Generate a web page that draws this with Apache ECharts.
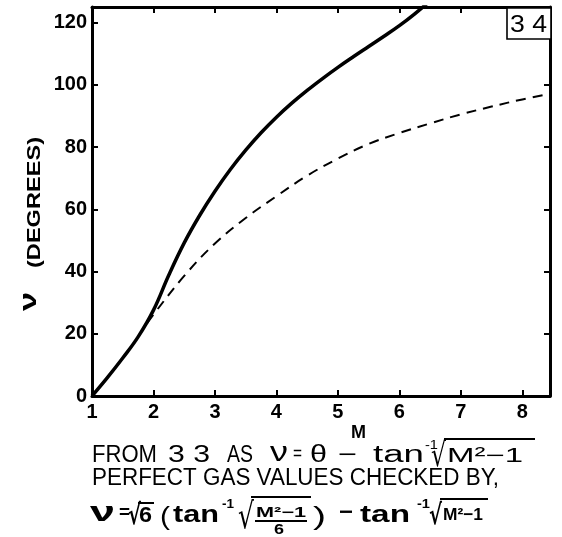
<!DOCTYPE html>
<html>
<head>
<meta charset="utf-8">
<script src="https://cdn.jsdelivr.net/npm/echarts@6/dist/echarts.min.js"></script>
<style>html,body{margin:0;padding:0;background:#fff}#c{width:562px;height:537px}</style>
</head>
<body>
<div id="c"></div>
<script>
// Solid curve (from chart 33)
const machSolid = [1, 1.25, 1.5, 1.75, 2, 2.25, 2.5, 2.75, 3, 3.25, 3.5, 3.75, 4, 4.25, 4.5, 4.75, 5, 5.25, 5.5, 5.75, 6, 6.25, 6.5];
const nuSolid   = [0, 5.9, 12.2, 19.0, 27.6, 38.9, 49.2, 58.0, 65.8, 72.8, 79.0, 84.6, 89.6, 94.1, 98.2, 102.0, 105.6, 109.0, 112.3, 115.6, 119.0, 122.8, 127.0];
// Dashed curve (perfect gas values)
const machDashed = [1.9, 2, 2.5, 3, 3.5, 4, 4.5, 5, 5.5, 6, 6.5, 7, 7.5, 8, 8.45];
const nuDashed   = [23.5, 26.2, 38.6, 49.0, 57.2, 64.2, 70.8, 76.3, 81.0, 84.5, 87.6, 90.5, 93.0, 95.3, 97.1];
// Axis ticks
const xTicks = [1, 2, 3, 4, 5, 6, 7, 8];
const yTicks = [0, 20, 40, 60, 80, 100, 120];

const FAM = 'Liberation Sans';
const mctx = document.createElement('canvas').getContext('2d');
function tw(str, size, weight, fam) { mctx.font = weight + ' ' + size + 'px "' + fam + '"'; return mctx.measureText(str).width; }
// text piece fitted between x1..x2, baseline at yb
function T(str, x1, x2, yb, size, weight, opt) {
  opt = opt || {};
  const fam = opt.fam || FAM;
  const sy = opt.sy || 1;
  const w = tw(str, size, weight, fam);
  const el = {
    type: 'text', x: x1, y: yb - 0.33 * size * sy, scaleX: (x2 - x1) / w, scaleY: sy, z: 100,
    style: { text: str, fontSize: size, fontWeight: weight, fontFamily: fam, fill: '#000',
      align: 'left', verticalAlign: 'middle', textAlign: 'left', textVerticalAlign: 'middle' }
  };
  if (opt.rot) { el.rotation = opt.rot; el.x = opt.xc; el.y = x1; el.scaleX = (x1 - x2) / w; }
  return el;
}
function L(x1, y1, x2, y2, w) {
  return { type: 'line', z: 100, shape: { x1, y1, x2, y2 }, style: { stroke: '#000', lineWidth: w || 1.8 } };
}

const chart = echarts.init(document.getElementById('c'), null, { renderer: 'canvas' });
const axisCommon = {
  axisLine: { show: true, onZero: false, lineStyle: { color: '#000', width: 3 } },
  axisTick: { show: true, inside: true, length: 6, lineStyle: { color: '#000', width: 2 } },
  splitLine: { show: false }
};
const graphics = [
  // corner box
  { type: 'rect', z: 99, shape: { x: 507, y: 8, width: 44, height: 31 }, style: { fill: '#fff', stroke: '#000', lineWidth: 1.6 } },
  T('3 4', 510, 547, 33, 24, 'normal'),
  // axis titles
  T('M', 351, 366, 439, 19, 'bold'),
  T('ν', 311, 292, 0, 24, 'bold', { rot: Math.PI / 2, xc: 29 }),
  T('(DEGREES)', 268, 137, 0, 19, 'bold', { rot: Math.PI / 2, xc: 35 }),
  // caption line 1
  T('FROM', 92, 157, 463, 23, 'normal'),
  T('3 3', 168, 210, 463, 23, 'normal'),
  T('AS', 227, 253, 463, 23, 'normal'),
  T('ν', 270, 288, 463, 28, 'normal'),
  T('=', 293, 302, 461, 20, 'normal'),
  T('θ', 310, 327, 463, 23, 'normal'),
  T('−', 338, 357, 463, 23, 'normal'),
  T('tan', 373, 424, 463, 23, 'normal'),
  T('-1', 425, 438, 450, 12, 'normal'),
  T('√', 431, 446, 468, 22, 'normal', { fam: 'DejaVu Sans', sy: 1.5 }),
  L(444, 439, 535, 439, 1.8),
  T('M²−1', 447, 523, 463, 20, 'normal'),
  // caption line 2
  T('PERFECT GAS VALUES CHECKED BY,', 92, 499, 486, 23, 'normal'),
  // caption line 3
  T('ν', 90, 115, 523, 28, 'bold'),
  T('=', 119, 130, 519, 18, 'bold'),
  T('√', 128, 141, 526, 20, 'bold', { fam: 'DejaVu Sans', sy: 1.4 }),
  L(138, 503, 154, 503, 2),
  T('6', 139, 152, 523, 22, 'bold'),
  T('(', 160, 170, 526, 26, 'normal'),
  T('tan', 173, 219, 523, 23, 'bold'),
  T('-1', 222, 234, 509, 12, 'bold'),
  T('√', 238, 254, 531, 24, 'normal', { fam: 'DejaVu Sans', sy: 1.5 }),
  L(251, 497, 311, 497, 2),
  T('M²−1', 256, 306, 518, 14, 'bold'),
  L(255, 521, 307, 521, 2),
  T('6', 274, 284, 535, 14, 'bold'),
  T(')', 313, 326, 526, 26, 'normal'),
  T('−', 339, 353, 520, 22, 'bold'),
  T('tan', 360, 410, 523, 23, 'bold'),
  T('-1', 417, 430, 509, 12, 'bold'),
  T('√', 429, 442, 526, 20, 'bold', { fam: 'DejaVu Sans', sy: 1.4 }),
  L(440, 499, 488, 499, 2),
  T('M²−1', 443, 483, 521, 17, 'bold')
];

chart.setOption({
  animation: false,
  backgroundColor: '#fff',
  grid: { left: 92, right: 12, top: 7, bottom: 141, containLabel: false },
  xAxis: [
    Object.assign({}, axisCommon, { type: 'value', position: 'bottom', min: 1, max: 8.45, interval: 1,
      axisLabel: { show: true, showMaxLabel: false, margin: 6, color: '#000', fontSize: 20, fontWeight: 'bold', fontFamily: FAM,
        formatter: v => (xTicks.indexOf(v) >= 0 ? String(v) : '') } }),
    Object.assign({}, axisCommon, { type: 'value', position: 'top', min: 1, max: 8.45, interval: 1, axisLabel: { show: false } })
  ],
  yAxis: [
    Object.assign({}, axisCommon, { type: 'value', position: 'left', min: 0, max: 125, interval: 20,
      axisLabel: { show: true, showMaxLabel: false, margin: 5, color: '#000', fontSize: 20, fontWeight: 'bold', fontFamily: FAM,
        formatter: v => (yTicks.indexOf(v) >= 0 ? String(v) : '') } }),
    Object.assign({}, axisCommon, { type: 'value', position: 'right', min: 0, max: 125, interval: 20, axisLabel: { show: false } })
  ],
  series: [
    { type: 'line', name: 'ν (from 33)', xAxisIndex: 0, yAxisIndex: 0, data: machSolid.map((m, i) => [m, nuSolid[i]]),
      showSymbol: false, smooth: 0.4, clip: true, lineStyle: { color: '#000', width: 3.5 }, z: 5 },
    { type: 'line', name: 'perfect gas', xAxisIndex: 0, yAxisIndex: 0, data: machDashed.map((m, i) => [m, nuDashed[i]]),
      showSymbol: false, smooth: 0.4, clip: true, lineStyle: { color: '#000', width: 2, type: [10, 7] }, z: 4 }
  ],
  graphic: graphics
});
</script>
</body>
</html>
